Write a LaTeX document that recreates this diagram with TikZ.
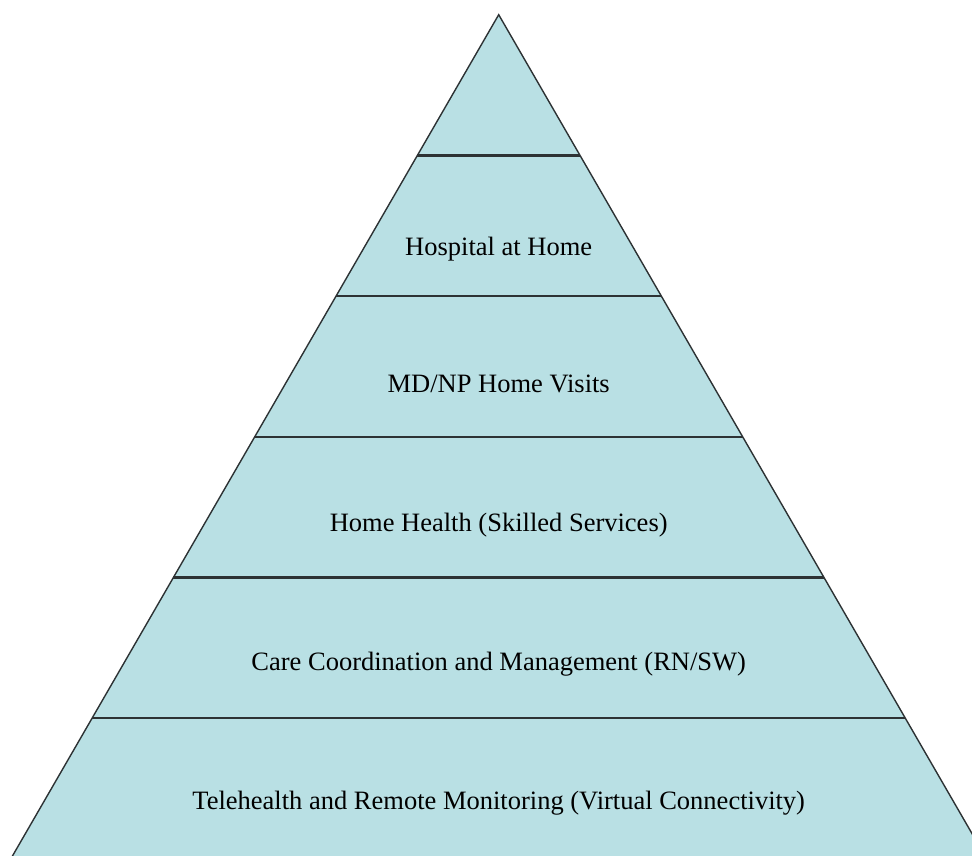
\documentclass[tikz,border=0pt]{standalone}
\usepackage{fontspec}
\setmainfont{Liberation Serif}
\usetikzlibrary{calc}

\definecolor{tierfill}{RGB}{185,224,228}
\definecolor{tierline}{RGB}{45,50,52}

\tikzset{
    tier/.style={fill=tierfill, draw=tierline, line width=1.4pt, line join=miter},
    divider/.style={draw=tierline, line width=2.2pt},
    tierlabel/.style={anchor=base, inner sep=0pt, font=\fontsize{26.5}{30}\selectfont}
}

\begin{document}
\begin{tikzpicture}[x=1pt,y=-1pt]

    % Page frame, the base of the pyramid runs off the bottom and right
    \useasboundingbox (0,0) rectangle (972,855);
    \clip (0,0) rectangle (972,855);

    % Apex and the two base corners
    \coordinate (T) at (498.7,14.7);
    \coordinate (L) at (10.7,859);
    \coordinate (R) at (986.7,859);

    % Draw the main triangle
    \draw[tier] (T) -- (L) -- (R) -- cycle;

    % Split it into six tiers of equal height
    \foreach \i in {1,...,5}{
        \coordinate (l\i) at ($(T)!\i/6!(L)$);
        \coordinate (r\i) at ($(T)!\i/6!(R)$);
        \draw[divider] (l\i) -- (r\i);
    }

    % Tier labels, from top to bottom
    \node[tierlabel] (hosp) at (498.7,255) {Hospital at Home};
    \node[tierlabel] (visit) at (498.7,392) {MD/NP Home Visits};
    \node[tierlabel] (skill) at (498.7,531) {Home Health (Skilled Services)};
    \node[tierlabel] (coord) at (498.7,670) {Care Coordination and Management (RN/SW)};
    \node[tierlabel] (tele) at (498.7,809) {Telehealth and Remote Monitoring (Virtual Connectivity)};

\end{tikzpicture}
\end{document}
